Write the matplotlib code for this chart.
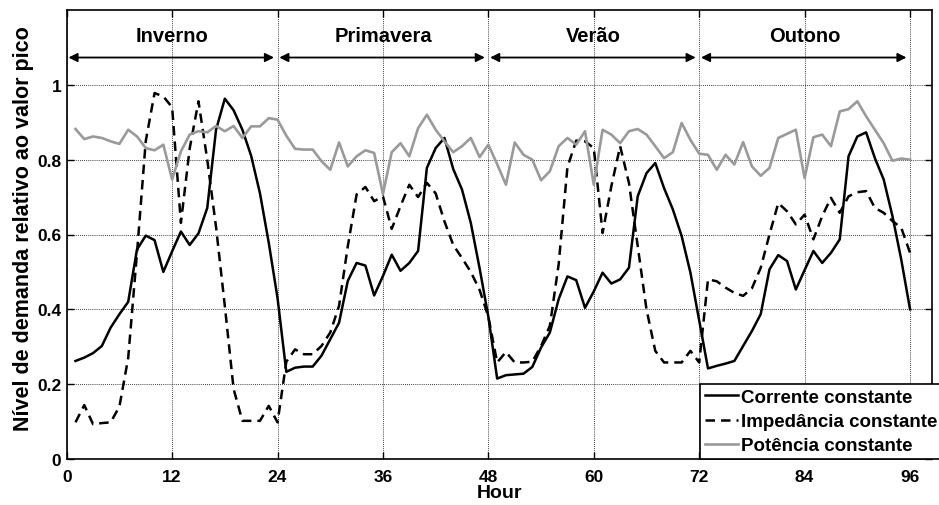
import matplotlib
matplotlib.use("Agg")
import matplotlib.pyplot as plt
import numpy as np

plt.rcParams['font.family'] = ['Liberation Sans', 'DejaVu Sans']
plt.rcParams['font.weight'] = 'bold'

hours = list(range(1, 97))

corrente = [
    0.262, 0.271, 0.283, 0.302, 0.351, 0.387, 0.420, 0.560, 0.597, 0.585, 0.500, 0.555,
    0.608, 0.572, 0.603, 0.671, 0.880, 0.963, 0.932, 0.880, 0.810, 0.710, 0.578, 0.430,
    0.233, 0.244, 0.247, 0.247, 0.276, 0.320, 0.364, 0.476, 0.524, 0.517, 0.437, 0.489,
    0.546, 0.503, 0.524, 0.556, 0.778, 0.831, 0.858, 0.775, 0.720, 0.631, 0.510, 0.380,
    0.215, 0.224, 0.226, 0.228, 0.246, 0.298, 0.338, 0.427, 0.488, 0.478, 0.404, 0.448,
    0.498, 0.469, 0.480, 0.511, 0.702, 0.764, 0.791, 0.724, 0.667, 0.596, 0.498, 0.370,
    0.242, 0.249, 0.255, 0.262, 0.302, 0.342, 0.387, 0.507, 0.545, 0.529, 0.453, 0.505,
    0.556, 0.524, 0.551, 0.587, 0.809, 0.862, 0.873, 0.804, 0.747, 0.649, 0.533, 0.400,
]

impedancia = [
    0.098, 0.144, 0.093, 0.096, 0.098, 0.140, 0.270, 0.550, 0.850, 0.978, 0.969, 0.940,
    0.631, 0.830, 0.956, 0.800, 0.620, 0.409, 0.187, 0.102, 0.102, 0.102, 0.142, 0.098,
    0.260, 0.293, 0.280, 0.280, 0.302, 0.338, 0.409, 0.569, 0.707, 0.727, 0.689, 0.702,
    0.615, 0.676, 0.733, 0.700, 0.738, 0.710, 0.635, 0.572, 0.537, 0.500, 0.452, 0.380,
    0.258, 0.286, 0.258, 0.258, 0.260, 0.302, 0.356, 0.520, 0.780, 0.851, 0.849, 0.831,
    0.604, 0.729, 0.836, 0.738, 0.569, 0.400, 0.289, 0.258, 0.258, 0.258, 0.289, 0.258,
    0.480, 0.475, 0.458, 0.444, 0.436, 0.456, 0.511, 0.600, 0.684, 0.662, 0.627, 0.653,
    0.587, 0.649, 0.698, 0.658, 0.702, 0.713, 0.716, 0.671, 0.658, 0.636, 0.618, 0.551,
]

potencia = [
    0.882, 0.855, 0.862, 0.858, 0.849, 0.842, 0.880, 0.862, 0.831, 0.825, 0.840, 0.747,
    0.822, 0.867, 0.876, 0.873, 0.890, 0.876, 0.890, 0.858, 0.889, 0.889, 0.911, 0.907,
    0.864, 0.829, 0.827, 0.827, 0.796, 0.773, 0.846, 0.782, 0.809, 0.825, 0.818, 0.708,
    0.820, 0.844, 0.809, 0.884, 0.920, 0.880, 0.849, 0.820, 0.836, 0.858, 0.807, 0.840,
    0.788, 0.733, 0.846, 0.813, 0.800, 0.745, 0.769, 0.836, 0.858, 0.840, 0.876, 0.733,
    0.880, 0.867, 0.844, 0.876, 0.882, 0.867, 0.836, 0.804, 0.820, 0.898, 0.853, 0.816,
    0.813, 0.773, 0.813, 0.787, 0.847, 0.782, 0.757, 0.778, 0.858, 0.869, 0.880, 0.751,
    0.860, 0.867, 0.836, 0.929, 0.935, 0.956, 0.916, 0.880, 0.844, 0.797, 0.803, 0.800,
]

seasons = ["Inverno", "Primavera", "Verão", "Outono"]
season_bounds = [(0, 24), (24, 48), (48, 72), (72, 96)]
xticks = [0, 12, 24, 36, 48, 60, 72, 84, 96]
yticks = [0, 0.2, 0.4, 0.6, 0.8, 1.0]
ytick_labels = ["0", "0.2", "0.4", "0.6", "0.8", "1"]
labels = ["Corrente constante", "Impedância constante", "Potência constante"]

W, H = 939, 506
fig = plt.figure(figsize=(W / 100, H / 100), dpi=100)
ax = fig.add_axes([66.7 / W, 1 - 460 / H, (932 - 66.7) / W, (460 - 11) / H])

ax.plot(hours, corrente, color='black', lw=1.8, label=labels[0])
ax.plot(hours, impedancia, color='black', lw=1.8, linestyle=(0, (3.8, 2.4)), label=labels[1])
ax.plot(hours, potencia, color='#9a9a9a', lw=1.9, label=labels[2])

ax.set_xlim(0, 98.5)
ax.set_ylim(0, 1.2)
ax.set_xticks(xticks)
ax.set_xticklabels([str(t) for t in xticks])
ax.set_yticks(yticks)
ax.set_yticklabels(ytick_labels)
ax.tick_params(axis='both', direction='in', top=True, right=True, length=5, width=1, labelsize=12.5)
ax.tick_params(axis='x', pad=7)
ax.tick_params(axis='y', pad=4)
for lab in ax.get_xticklabels() + ax.get_yticklabels():
    lab.set_fontweight('bold')
ax.grid(True, color='black', linestyle=(0, (1, 1.5)), linewidth=0.6)
for s in ax.spines.values():
    s.set_linewidth(1.2)

ax.set_xlabel("Hour", fontsize=14, fontweight='bold', labelpad=0)
ax.set_ylabel("Nível de demanda relativo ao valor pico", fontsize=15.5, fontweight='bold')
ax.yaxis.set_label_coords(-0.038, 0.515)

for name, (a, b) in zip(seasons, season_bounds):
    ax.annotate('', xy=(b - 0.4, 1.073), xytext=(a + 0.2, 1.073),
                arrowprops=dict(arrowstyle='<|-|>', color='black', lw=1.3,
                                mutation_scale=13, shrinkA=0, shrinkB=0))
    ax.text((a + b) / 2, 1.133, name, ha='center', va='center', fontsize=14.5, fontweight='bold')

leg = ax.legend(loc='upper left', bbox_to_anchor=(700 / W, 1 - 385 / H), bbox_transform=fig.transFigure,
                fancybox=False, framealpha=1, edgecolor='black', borderpad=0.25,
                handlelength=1.8, handletextpad=0.15, labelspacing=0.38, borderaxespad=0,
                prop={'size': 13.5, 'weight': 'bold'})
leg.get_frame().set_linewidth(1.2)

fig.savefig("out.png", dpi=100)
